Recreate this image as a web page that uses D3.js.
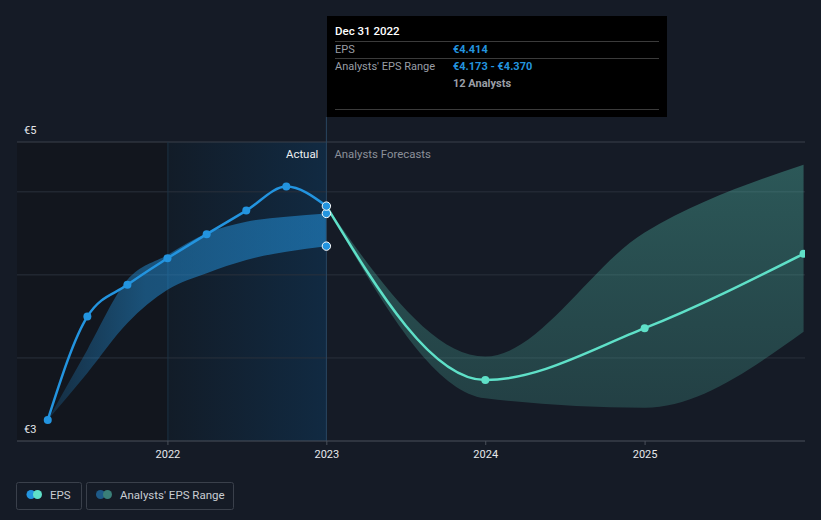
<!DOCTYPE html>
<html>
<head>
<meta charset="utf-8">
<script src="https://cdn.jsdelivr.net/npm/d3@7"></script>
<style>
  html, body { margin: 0; padding: 0; background: #151b26; }
  svg { display: block; font-family: Roboto, "Noto Sans", sans-serif; }
</style>
</head>
<body>
<svg id="chart" width="821" height="520"></svg>
<script>
// ---------- data ----------
const actualDates = ["2021-03-31","2021-06-30","2021-09-30","2021-12-31","2022-03-31","2022-06-30","2022-09-30","2022-12-31"];
const actualEps   = [3.127, 3.749, 3.94, 4.10, 4.245, 4.387, 4.532, 4.414];
const pastRangeLow  = [3.127, 3.41, 3.71, 3.91, 4.01, 4.09, 4.14, 4.173];
const pastRangeHigh = [3.127, 3.55, 3.97, 4.12, 4.25, 4.32, 4.35, 4.370];

const forecastDates = ["2022-12-31","2023-12-31","2024-12-31","2025-12-31"];
const forecastEps   = [4.414, 3.367, 3.679, 4.127];
const forecastLow   = [4.414, 3.257, 3.20, 3.658];
const forecastHigh  = [4.414, 3.508, 4.255, 4.663];

const xTickYears  = [2022, 2023, 2024, 2025];
const yTickValues = [3, 4.8];
const yTickLabels = ["€3", "€5"];
const yGridValues = [3.5, 4, 4.5];

const tooltipTitle = "Dec 31 2022";
const tooltipRows = [
  ["EPS", "€4.414"],
  ["Analysts' EPS Range", "€4.173 - €4.370"],
  ["", "12 Analysts"]
];
const legendItems = ["EPS", "Analysts' EPS Range"];

// ---------- setup ----------
(function () {
const parse = d3.timeParse("%Y-%m-%d");
const svg = d3.select("#chart");
const W = 821, H = 520;
const pLeft = 17, pRight = 805, pTop = 142, pBottom = 441;

const x = d3.scaleTime()
  .domain([new Date(2021, 0, 1), new Date(2026, 0, 1)])
  .range([9, 804]);
const y = d3.scaleLinear().domain([3, 4.8]).range([pBottom, pTop]);

const nowDate = parse("2022-12-31");
const yearStart = new Date(2022, 0, 1);

const actual = actualDates.map((d, i) => ({ date: parse(d), v: actualEps[i], lo: pastRangeLow[i], hi: pastRangeHigh[i] }));
const forecast = forecastDates.map((d, i) => ({ date: parse(d), v: forecastEps[i], lo: forecastLow[i], hi: forecastHigh[i] }));

const defs = svg.append("defs");

svg.append("rect").attr("width", W).attr("height", H).attr("fill", "#151b26");

svg.append("rect")
  .attr("x", pLeft).attr("y", pTop)
  .attr("width", x(yearStart) - pLeft).attr("height", pBottom - pTop)
  .attr("fill", "#12161e");

const hl = defs.append("linearGradient").attr("id", "hl").attr("x1", 0).attr("x2", 1).attr("y1", 0).attr("y2", 0);
hl.append("stop").attr("offset", 0).attr("stop-color", "#121c28");
hl.append("stop").attr("offset", 1).attr("stop-color", "#112a42");
svg.append("rect")
  .attr("x", x(yearStart)).attr("y", pTop)
  .attr("width", x(nowDate) - x(yearStart)).attr("height", pBottom - pTop)
  .attr("fill", "url(#hl)");

svg.append("g").selectAll("line").data(yGridValues).join("line")
  .attr("x1", pLeft).attr("x2", pRight)
  .attr("y1", d => y(d)).attr("y2", d => y(d))
  .attr("stroke", "#2a313c").attr("stroke-width", 1);
svg.append("line").attr("x1", pLeft).attr("x2", pRight).attr("y1", y(4.8)).attr("y2", y(4.8))
  .attr("stroke", "#3a404a");

svg.append("line")
  .attr("x1", x(yearStart)).attr("x2", x(yearStart))
  .attr("y1", pTop).attr("y2", pBottom)
  .attr("stroke", "#1d3144").attr("stroke-width", 1);

const pg = defs.append("linearGradient").attr("id", "pastBand")
  .attr("gradientUnits", "userSpaceOnUse")
  .attr("x1", x(actual[0].date)).attr("x2", x(nowDate)).attr("y1", 0).attr("y2", 0);
pg.append("stop").attr("offset", 0).attr("stop-color", "#2394df").attr("stop-opacity", 0.18);
pg.append("stop").attr("offset", 0.35).attr("stop-color", "#2394df").attr("stop-opacity", 0.47);
pg.append("stop").attr("offset", 1).attr("stop-color", "#2394df").attr("stop-opacity", 0.55);

const area = d3.area().curve(d3.curveMonotoneX)
  .x(d => x(d.date)).y0(d => y(d.lo)).y1(d => y(d.hi));
svg.append("path").datum(actual).attr("d", area).attr("fill", "url(#pastBand)");

const fg = defs.append("linearGradient").attr("id", "fcBand")
  .attr("gradientUnits", "userSpaceOnUse")
  .attr("x1", 0).attr("x2", 0).attr("y1", pTop).attr("y2", pBottom);
fg.append("stop").attr("offset", 0).attr("stop-color", "#5fe0c8").attr("stop-opacity", 0.32);
fg.append("stop").attr("offset", 1).attr("stop-color", "#5fe0c8").attr("stop-opacity", 0.17);
svg.append("path").datum(forecast).attr("d", area).attr("fill", "url(#fcBand)");

svg.append("line")
  .attr("x1", x(nowDate)).attr("x2", x(nowDate))
  .attr("y1", 117).attr("y2", pBottom)
  .attr("stroke", "#2a4660").attr("stroke-width", 1);

svg.append("line").attr("x1", pLeft).attr("x2", pRight).attr("y1", pBottom).attr("y2", pBottom)
  .attr("stroke", "#4a505a");

const xg = svg.append("g");
xg.selectAll("line").data(xTickYears).join("line")
  .attr("x1", d => x(new Date(d, 0, 1))).attr("x2", d => x(new Date(d, 0, 1)))
  .attr("y1", pBottom).attr("y2", pBottom + 4)
  .attr("stroke", "#4a505a");
xg.selectAll("text").data(xTickYears).join("text")
  .attr("x", d => x(new Date(d, 0, 1))).attr("y", pBottom + 17)
  .attr("text-anchor", "middle").attr("fill", "#e6e8eb")
  .attr("font-size", 11).text(d => d);

svg.append("g").selectAll("text").data(yTickValues).join("text")
  .attr("x", 24).attr("y", d => y(d) - 8)
  .attr("fill", "#e6e8eb").attr("font-size", 11)
  .text((d, i) => yTickLabels[i]);

svg.append("text").attr("x", x(nowDate) - 8).attr("y", pTop + 16)
  .attr("text-anchor", "end").attr("fill", "#eef0f2").attr("font-size", 11.4).text("Actual");
svg.append("text").attr("x", x(nowDate) + 8).attr("y", pTop + 16)
  .attr("fill", "#8b9099").attr("font-size", 11.4).text("Analysts Forecasts");

const line = d3.line().curve(d3.curveMonotoneX).x(d => x(d.date)).y(d => y(d.v));
svg.append("path").datum(forecast).attr("d", line)
  .attr("fill", "none").attr("stroke", "#5fe0c8").attr("stroke-width", 2.5);
svg.append("path").datum(actual).attr("d", line)
  .attr("fill", "none").attr("stroke", "#2394df").attr("stroke-width", 2.5);

svg.append("g").selectAll("circle").data(actual.slice(0, -1)).join("circle")
  .attr("cx", d => x(d.date)).attr("cy", d => y(d.v)).attr("r", 4)
  .attr("fill", "#2394df");
svg.append("g").selectAll("circle").data(forecast.slice(1)).join("circle")
  .attr("cx", d => x(d.date)).attr("cy", d => y(d.v)).attr("r", 4)
  .attr("fill", "#5fe0c8");

const last = actual[actual.length - 1];
svg.append("g").selectAll("circle").data([last.lo, last.hi, last.v]).join("circle")
  .attr("cx", x(last.date)).attr("cy", d => y(d)).attr("r", 4.2)
  .attr("fill", "#2394df").attr("stroke", "#ffffff").attr("stroke-width", 1);

svg.append("rect").attr("x", pRight).attr("y", 0).attr("width", W - pRight).attr("height", pBottom + 1).attr("fill", "#151b26");

const tt = svg.append("g");
tt.append("rect").attr("x", 327).attr("y", 16).attr("width", 340).attr("height", 101).attr("fill", "#000000");
tt.append("text").attr("x", 335).attr("y", 35).attr("fill", "#ffffff").attr("font-size", 11.5)
  .attr("font-weight", 500).text(tooltipTitle);
[41.5, 58.5, 109.5].forEach(yy => {
  tt.append("line").attr("x1", 335).attr("x2", 659).attr("y1", yy).attr("y2", yy)
    .attr("stroke", "#3b3b3b");
});
const rowY = [53, 70, 87];
tooltipRows.forEach((r, i) => {
  tt.append("text").attr("x", 335).attr("y", rowY[i]).attr("fill", "#9a9ea6").attr("font-size", 11).text(r[0]);
  tt.append("text").attr("x", 453).attr("y", rowY[i])
    .attr("fill", i < 2 ? "#2394df" : "#9a9ea6").attr("font-size", 11).attr("font-weight", 700).text(r[1]);
});

const lg = svg.append("g");
lg.append("rect").attr("x", 16.5).attr("y", 482.5).attr("width", 65).attr("height", 27).attr("rx", 2)
  .attr("fill", "none").attr("stroke", "#3a404b");
lg.append("circle").attr("cx", 31).attr("cy", 494.5).attr("r", 4.5).attr("fill", "#2394df");
lg.append("circle").attr("cx", 37.5).attr("cy", 494.5).attr("r", 4.5).attr("fill", "#5fe0c8");
lg.append("text").attr("x", 50).attr("y", 498.5).attr("fill", "#c9cdd3").attr("font-size", 11.5).text(legendItems[0]);

lg.append("rect").attr("x", 86.5).attr("y", 482.5).attr("width", 147).attr("height", 27).attr("rx", 2)
  .attr("fill", "none").attr("stroke", "#3a404b");
lg.append("circle").attr("cx", 100.5).attr("cy", 494.5).attr("r", 4.5).attr("fill", "#1e5a88");
lg.append("circle").attr("cx", 107.5).attr("cy", 494.5).attr("r", 4.5).attr("fill", "#3a7f78");
lg.append("text").attr("x", 120).attr("y", 498.5).attr("fill", "#c9cdd3").attr("font-size", 11.5).text(legendItems[1]);
})();
</script>
</body>
</html>
